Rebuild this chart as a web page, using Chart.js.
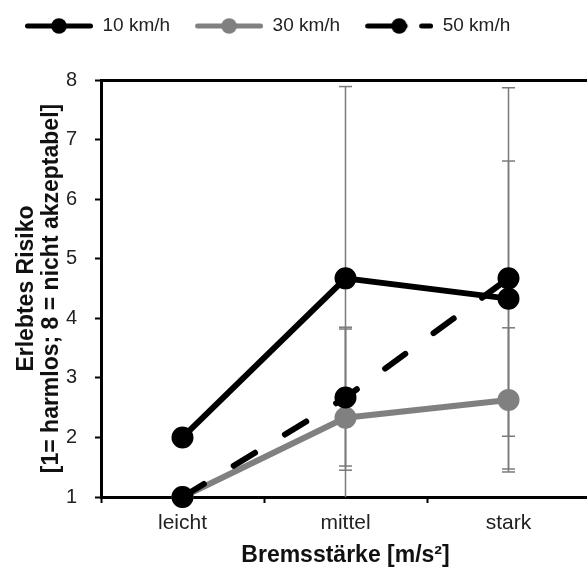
<!DOCTYPE html>
<html><head><meta charset="utf-8">
<script src="https://cdn.jsdelivr.net/npm/chart.js@4/dist/chart.umd.min.js"></script>
<style>
html,body{margin:0;padding:0;overflow:hidden;background:#fff;width:587px;height:567px}
canvas{display:block}
</style>
</head><body>
<canvas id="c" width="590" height="567"></canvas>
<script>
// ---- data ----
const categories = ['leicht', 'mittel', 'stark'];
const seriesNames = ['10 km/h', '30 km/h', '50 km/h'];
const risk10 = [2.0, 4.67, 4.33];
const risk30 = [1.0, 2.33, 2.63];
const risk50 = [1.0, 2.67, 4.67];
const sd10 = [null, 3.22, 2.31];
const sd30 = [null, 1.52, 1.21];
const sd50 = [null, 1.15, 3.2];
const yTicks = [1, 2, 3, 4, 5, 6, 7, 8];
const xTitle = 'Bremsstärke [m/s²]';
const yTitle = ['Erlebtes Risiko', '[1= harmlos; 8 = nicht akzeptabel]'];

const FONT = "'Liberation Sans', Arial, sans-serif";
const BLACK = '#000000';
const GREY = '#808080';
const ERR = '#7a7a7a';

// ---- legend symbols ----
function legendIcon(color, dashed) {
  const c = document.createElement('canvas');
  c.width = 83; c.height = 22;
  const g = c.getContext('2d');
  g.strokeStyle = color; g.fillStyle = color; g.lineWidth = 5; g.lineCap = 'round';
  g.beginPath();
  if (!dashed) {
    g.moveTo(17.5, 11); g.lineTo(80.5, 11);
  } else {
    g.moveTo(17.5, 11); g.lineTo(55, 11);
    g.moveTo(71.5, 11); g.lineTo(80.5, 11);
  }
  g.stroke();
  g.beginPath();
  g.arc(49, 11, 7.8, 0, Math.PI * 2);
  g.fill();
  return c;
}
const icons = [legendIcon(BLACK, false), legendIcon(GREY, false), legendIcon(BLACK, true)];

// ---- error bar datasets built from the sd arrays ----
const means = [risk10, risk30, risk50];
const sds = [sd10, sd30, sd50];
const errorSets = [];
means.forEach((m, s) => {
  categories.forEach((cat, i) => {
    const e = sds[s][i];
    if (e === null) return;
    errorSets.push({
      label: 'err',
      data: [{x: cat, y: m[i] - e}, {x: cat, y: m[i] + e}],
      borderColor: ERR, borderWidth: 1.5,
      pointStyle: 'line', pointRadius: 6.5, pointBorderColor: ERR, pointBorderWidth: 1.5,
      pointBackgroundColor: ERR,
      order: 10
    });
  });
});

const mainSets = [
  {label: seriesNames[0], data: risk10, borderColor: BLACK, backgroundColor: BLACK, borderWidth: 6,
   pointRadius: 10, pointBorderWidth: 2, pointBackgroundColor: BLACK, pointBorderColor: BLACK, order: 2, clip: false},
  {label: seriesNames[1], data: risk30, borderColor: GREY, backgroundColor: GREY, borderWidth: 6,
   pointRadius: 10, pointBorderWidth: 2, pointBackgroundColor: GREY, pointBorderColor: GREY, order: 3, clip: false},
  {label: seriesNames[2], data: risk50, borderColor: BLACK, backgroundColor: BLACK, borderWidth: 6,
   borderDash: [25, 35], borderCapStyle: 'round',
   pointRadius: 10, pointBorderWidth: 2, pointBackgroundColor: BLACK, pointBorderColor: BLACK, order: 1, clip: false}
];

Chart.defaults.font.family = FONT;

new Chart(document.getElementById('c'), {
  type: 'line',
  data: {labels: categories, datasets: mainSets.concat(errorSets)},
  options: {
    responsive: false, animation: false, devicePixelRatio: 1, events: [],
    layout: {autoPadding: false, padding: {top: 6.5, left: 0, right: 0, bottom: 0}},
    plugins: {
      tooltip: {enabled: false},
      legend: {
        position: 'top', align: 'start',
        labels: {
          usePointStyle: true, pointStyleWidth: 83, padding: 10,
          font: {size: 19, family: FONT}, color: '#222',
          generateLabels: () => seriesNames.map((n, i) => ({
            text: n, pointStyle: icons[i], fillStyle: 'rgba(0,0,0,0)', strokeStyle: 'rgba(0,0,0,0)',
            lineWidth: 0, hidden: false, datasetIndex: i, fontColor: '#222', rotation: 0
          }))
        }
      }
    },
    scales: {
      x: {
        type: 'category', position: 'bottom', offset: true,
        afterFit: s => { s.height = 70; },
        grid: {display: true, offset: true, drawOnChartArea: false, drawTicks: true, tickLength: 6, tickWidth: 2, tickColor: BLACK},
        border: {display: true, width: 3, color: BLACK},
        ticks: {padding: 8, color: '#222', font: {size: 21, family: FONT}},
        title: {display: true, text: xTitle, color: '#111', padding: {top: 0, bottom: 0},
                font: {size: 23, weight: 'bold', family: FONT, lineHeight: 1}}
      },
      xTop: {
        type: 'category', position: 'top', offset: true,
        afterFit: s => { s.height = 34.5; },
        grid: {display: true, drawOnChartArea: false, drawTicks: true, tickLength: 34, tickColor: 'rgba(0,0,0,0)'},
        border: {display: true, width: 3, color: BLACK},
        ticks: {display: false}
      },
      y: {
        type: 'linear', position: 'left', min: 1, max: 8,
        afterFit: s => { s.width = 101; },
        afterBuildTicks: s => { s.ticks = yTicks.map(v => ({value: v})); },
        grid: {display: true, drawOnChartArea: false, drawTicks: true, tickLength: 6, tickWidth: 2, tickColor: BLACK},
        border: {display: true, width: 3, color: BLACK},
        ticks: {padding: 18, color: '#222', font: {size: 20, family: FONT}},
        title: {display: true, text: yTitle, color: '#111', padding: {top: 15, bottom: 0},
                font: {size: 23, weight: 'bold', family: FONT, lineHeight: 1.05}}
      }
    }
  }
});
</script>
</body></html>
